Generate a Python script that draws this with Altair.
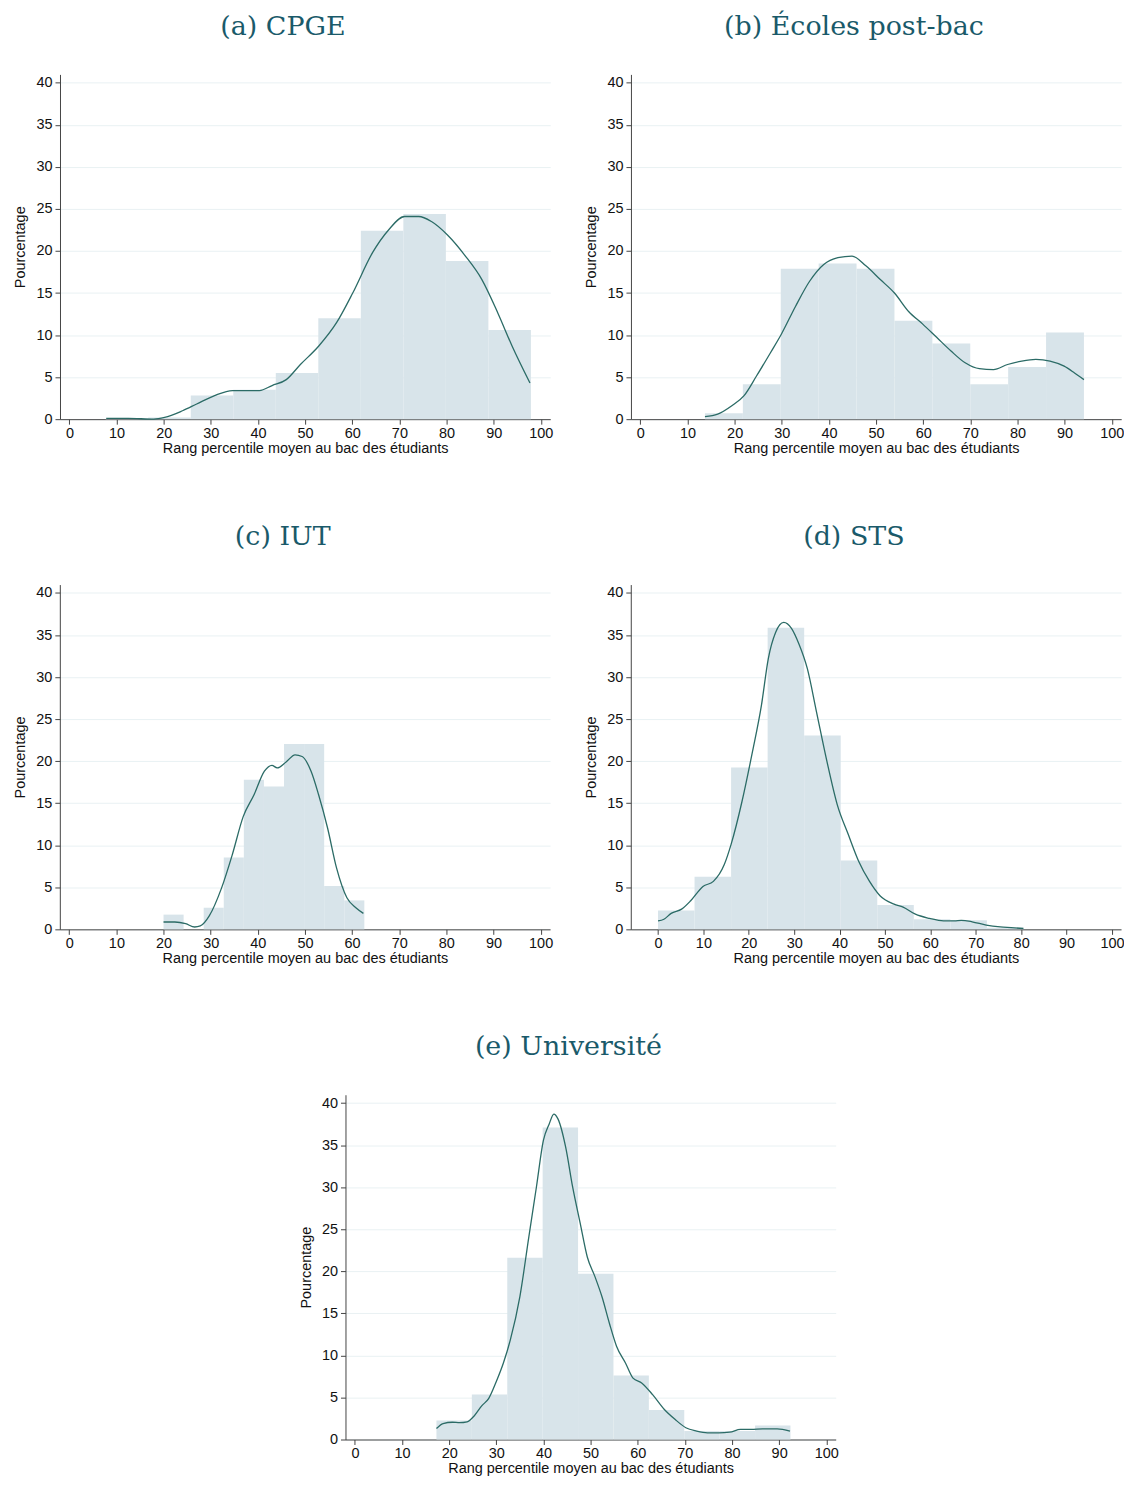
import altair as alt
import pandas as pd

# ---------------- data ----------------
# (a) CPGE
a_bin_start = 7.7
a_bin_width = 9.02
a_heights = [0.05, 0.2, 2.8, 3.5, 5.5, 12.0, 22.4, 24.4, 18.8, 10.6]
a_kde_x = [7.8, 12.5, 17.9, 20.2, 24.0, 27.0, 30.8, 34.6, 37.6, 40.3, 43.0, 46.0, 49.0, 52.9,
           56.7, 60.1, 64.3, 67.7, 71.1, 74.1, 76.8, 80.2, 84.0, 87.5, 90.9, 93.9, 97.7]
a_kde_y = [0.1, 0.1, 0.0, 0.2, 1.0, 1.8, 2.8, 3.4, 3.4, 3.4, 4.0, 4.7, 6.5, 8.7,
           11.5, 15.0, 19.8, 22.5, 24.1, 24.1, 23.5, 21.9, 19.4, 16.6, 12.6, 8.7, 4.3]

# (b) Écoles post-bac
b_bin_start = 13.7
b_bin_width = 8.04
b_heights = [0.7, 4.15, 17.9, 18.5, 17.9, 11.7, 9.0, 4.15, 6.2, 10.3]
b_kde_x = [13.7, 16.4, 19.4, 22.0, 24.6, 27.6, 29.9, 32.9, 35.9, 38.9, 41.9, 44.9, 47.9, 50.9,
           53.9, 56.9, 59.9, 62.9, 65.9, 68.9, 71.9, 74.9, 77.9, 80.9, 83.9, 86.9, 89.9, 92.1, 94.1]
b_kde_y = [0.3, 0.6, 1.6, 2.8, 5.1, 7.9, 10.1, 13.4, 16.4, 18.4, 19.2, 19.4, 18.2, 16.6,
           15.0, 12.8, 11.3, 9.7, 8.1, 6.7, 6.0, 5.9, 6.5, 6.9, 7.1, 6.9, 6.3, 5.5, 4.7]

# (c) IUT
c_bin_start = 20.0
c_bin_width = 4.26
c_heights = [1.75, 0.0, 2.57, 8.54, 17.8, 17.0, 22.05, 22.05, 5.14, 3.44]
c_kde_x = [20.0, 22.4, 24.7, 26.6, 27.8, 29.7, 32.3, 34.6, 36.9, 39.2, 41.4, 43.0, 44.1, 46.0,
           47.9, 49.4, 51.3, 52.9, 54.8, 56.7, 58.9, 60.8, 62.4]
c_kde_y = [0.87, 0.87, 0.67, 0.28, 0.4, 1.6, 4.9, 8.9, 13.4, 16.0, 18.8, 19.5, 19.2, 19.9,
           20.75, 20.55, 18.8, 16.0, 12.05, 7.3, 3.75, 2.57, 1.9]

# (d) STS
d_bin_start = 0.0
d_bin_width = 8.05
d_heights = [2.25, 6.25, 19.25, 35.85, 23.05, 8.2, 2.9, 1.2, 1.07, 0.2]
d_kde_x = [0.0, 1.3, 2.9, 5.2, 7.2, 9.9, 12.2, 14.6, 16.1, 18.5, 20.8, 22.8, 24.3, 25.9, 27.7,
           29.4, 31.0, 32.9, 34.9, 37.2, 39.5, 41.9, 44.2, 46.6, 48.9, 52.0, 54.0, 56.7, 59.8,
           62.9, 65.3, 66.8, 69.2, 72.3, 75.4, 77.8, 80.5]
d_kde_y = [1.0, 1.2, 1.9, 2.4, 3.4, 5.1, 5.7, 7.7, 10.1, 15.2, 21.1, 26.7, 32.2, 35.3, 36.5,
           35.8, 34.0, 31.0, 25.9, 20.0, 14.8, 11.3, 8.1, 5.7, 4.0, 3.0, 2.65, 1.8, 1.3,
           1.0, 1.0, 1.07, 0.9, 0.5, 0.28, 0.2, 0.1]

# (e) Université
e_bin_start = 17.3
e_bin_width = 7.51
e_heights = [2.25, 5.34, 21.6, 37.1, 19.7, 7.6, 3.5, 1.0, 1.0, 1.66]
e_kde_x = [17.3, 18.7, 20.7, 22.2, 23.8, 25.3, 26.9, 28.4, 30.0, 31.5, 33.0, 35.0, 36.9, 38.5,
           40.0, 41.2, 42.2, 43.1, 44.7, 46.2, 47.8, 49.3, 50.9, 52.4, 54.0, 55.5, 57.4, 59.0,
           60.9, 63.2, 65.6, 67.9, 70.2, 72.5, 74.8, 77.2, 79.5, 81.8, 84.1, 86.5, 89.6, 92.3]
e_kde_y = [1.3, 1.9, 2.05, 2.0, 2.1, 2.8, 4.0, 4.9, 6.9, 9.1, 11.9, 17.0, 24.1, 30.0,
           35.6, 37.5, 38.7, 38.1, 34.8, 30.0, 25.7, 21.7, 19.4, 17.0, 13.8, 11.1, 9.1, 7.3,
           6.7, 5.3, 3.6, 2.4, 1.4, 1.0, 0.8, 0.8, 0.87, 1.2, 1.2, 1.26, 1.26, 1.0]

titles = ["(a) CPGE", "(b) Écoles post-bac", "(c) IUT", "(d) STS", "(e) Université"]
x_ticks = list(range(0, 101, 10))
y_ticks = list(range(0, 41, 5))
x_title = "Rang percentile moyen au bac des étudiants"
y_title = "Pourcentage"

# ---------------- styling ----------------
BAR = "#d8e4ea"
LINE = "#2b6b66"
TITLE = "#1a5a6a"
GRID = "#e9f1f3"
W, H = 492, 346


def panel(title, start, width, heights, kx, ky, xdom):
    n = len(heights)
    bars = pd.DataFrame({
        "x": [start + i * width for i in range(n)],
        "x2": [start + (i + 1) * width for i in range(n)],
        "y": heights,
        "y0": [0.0] * n,
    })
    kde = pd.DataFrame({"x": kx, "y": ky})
    xs = alt.Scale(domain=xdom, nice=False, zero=False)
    ys = alt.Scale(domain=[0, 41], nice=False)
    xax = alt.Axis(values=x_ticks, title=x_title, grid=False, tickSize=5,
                   labelPadding=2, titlePadding=2, labelFlush=False)
    yax = alt.Axis(values=y_ticks, title=y_title, grid=True, gridColor=GRID,
                   tickSize=5, labelPadding=3, titlePadding=8)
    bar = alt.Chart(bars).mark_rect(color=BAR, opacity=1).encode(
        x=alt.X("x:Q", scale=xs, axis=xax),
        x2="x2:Q",
        y=alt.Y("y:Q", scale=ys, axis=yax),
        y2="y0:Q",
    )
    line = alt.Chart(kde).mark_line(color=LINE, strokeWidth=1.3, interpolate="monotone").encode(
        x=alt.X("x:Q", scale=xs, axis=xax),
        y=alt.Y("y:Q", scale=ys, axis=yax),
    )
    return alt.layer(bar, line).properties(
        width=W, height=H,
        title=alt.TitleParams(text=title, font="DejaVu Serif", fontSize=27,
                              fontWeight="normal", color=TITLE, anchor="middle",
                              frame="bounds", offset=34),
    )


pa = panel(titles[0], a_bin_start, a_bin_width, a_heights, a_kde_x, a_kde_y, [-2, 102])
pb = panel(titles[1], b_bin_start, b_bin_width, b_heights, b_kde_x, b_kde_y, [-2, 102])
pc = panel(titles[2], c_bin_start, c_bin_width, c_heights, c_kde_x, c_kde_y, [-2, 102])
pd_ = panel(titles[3], d_bin_start, d_bin_width, d_heights, d_kde_x, d_kde_y, [-6, 102])
pe = panel(titles[4], e_bin_start, e_bin_width, e_heights, e_kde_x, e_kde_y, [-2, 102])

row1 = alt.hconcat(pa, pb, spacing=30)
row2 = alt.hconcat(pc, pd_, spacing=30)

chart = alt.vconcat(row1, row2, pe, spacing=68, center=True).properties(
    padding={"left": 4, "top": 2, "right": 0, "bottom": 0}
).configure_view(stroke=None).configure_axis(
    labelFont="Liberation Sans", labelFontSize=14.5, labelColor="#111",
    titleFont="Liberation Sans", titleFontSize=14.5, titleFontWeight="normal", titleColor="#111",
    domainColor="#444", tickColor="#444", domainWidth=1, tickWidth=1,
)

chart.save("out.html", embed_options={"renderer": "svg", "actions": False})
